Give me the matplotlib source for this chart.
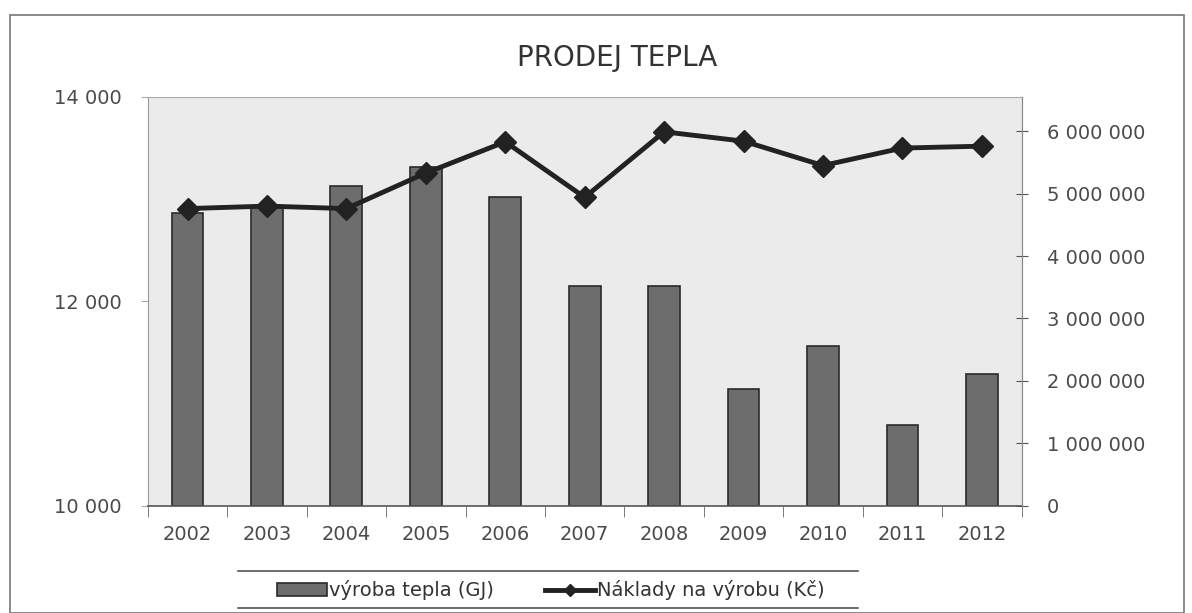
import numpy as np
import matplotlib.pyplot as plt
from matplotlib.lines import Line2D
from matplotlib.patches import Rectangle

# data
years = ['2002', '2003', '2004', '2005', '2006', '2007', '2008', '2009', '2010', '2011', '2012']
vyroba = [12860, 12926, 13129, 13313, 13024, 12152, 12148, 11139, 11560, 10787, 11286]
naklady = [4760000, 4800000, 4760000, 5330000, 5830000, 4940000, 5990000, 5840000, 5450000, 5730000, 5760000]
left_ticks = [10000, 12000, 14000]
right_ticks = [0, 1000000, 2000000, 3000000, 4000000, 5000000, 6000000]


def fmt(v):
    return '{:,}'.format(v).replace(',', ' ')


plt.rcParams['font.family'] = ['DejaVu Sans']
txt = '#4a4a4a'

fig = plt.figure(figsize=(11.92, 6.13), dpi=100)
ax = fig.add_axes([0.124, 0.175, 0.733, 0.667])
ax2 = ax.twinx()

x = np.arange(len(years))

# bars on the left axis
ax.bar(x, np.array(vyroba) - 10000, bottom=10000, width=0.4, color='#6d6d6d',
       edgecolor='#2a2a2a', linewidth=1.2, label='výroba tepla (GJ)', zorder=2)
ax.set_facecolor('#ebebeb')
ax.set_xlim(-0.5, len(years) - 0.5)
ax.set_ylim(10000, 14000)
ax.set_yticks(left_ticks)
ax.set_yticklabels([fmt(v) for v in left_ticks], color=txt, fontsize=14)
ax.set_xticks(x)
ax.set_xticklabels(years, color=txt, fontsize=14)
ax.set_xticks(np.arange(len(years) + 1) - 0.5, minor=True)
ax.tick_params(axis='x', which='major', length=0, pad=14)
ax.tick_params(axis='x', which='minor', length=8, color='#666666', direction='out')
ax.tick_params(axis='y', length=5, color='#aaaaaa', direction='out', pad=14)
for s in ['top', 'right']:
    ax.spines[s].set_color('#aaaaaa')
ax.spines['left'].set_color('#999999')
ax.spines['bottom'].set_color('#555555')
ax.spines['bottom'].set_linewidth(1.2)

# line on the right axis
ax2.plot(x, naklady, color='#222222', linewidth=3.5, marker='D', markersize=11,
         label='Náklady na výrobu (Kč)', zorder=3)
ax2.set_ylim(0, 6550000)
ax2.set_yticks(right_ticks)
ax2.set_yticklabels([fmt(v) for v in right_ticks], color=txt, fontsize=14)
ax2.tick_params(axis='y', length=8, color='#555555', direction='inout', pad=14)
for s in ['top', 'left', 'bottom']:
    ax2.spines[s].set_visible(False)
ax2.spines['right'].set_color('#888888')

fig.text(0.518, 0.905, 'PRODEJ TEPLA', ha='center', va='center', fontsize=20, color='#333333')

h1, l1 = ax.get_legend_handles_labels()
h2 = [Line2D([], [], color='#222222', linewidth=3.5, marker='D', markersize=6)]
l2 = ['Náklady na výrobu (Kč)']
leg = fig.legend(h1 + h2, l1 + l2, loc='center', bbox_to_anchor=(0.462, 0.037), ncol=2,
                 fontsize=14, frameon=False, handlelength=2.6, handletextpad=0.1,
                 columnspacing=2.6)
for t in leg.get_texts():
    t.set_color('#333333')

# legend box: only top and bottom rules are visible in the original
fig.add_artist(Line2D([0.2, 0.72], [0.068, 0.068], transform=fig.transFigure,
                      color='#555555', linewidth=1.2))
fig.add_artist(Line2D([0.2, 0.72], [0.008, 0.008], transform=fig.transFigure,
                      color='#555555', linewidth=1.2))

# outer chart border
fig.patches.append(Rectangle((0.008, 0.0), 0.985, 0.975, transform=fig.transFigure,
                             fill=False, edgecolor='#777777', linewidth=1.2))

fig.savefig('out.png', dpi=100)
